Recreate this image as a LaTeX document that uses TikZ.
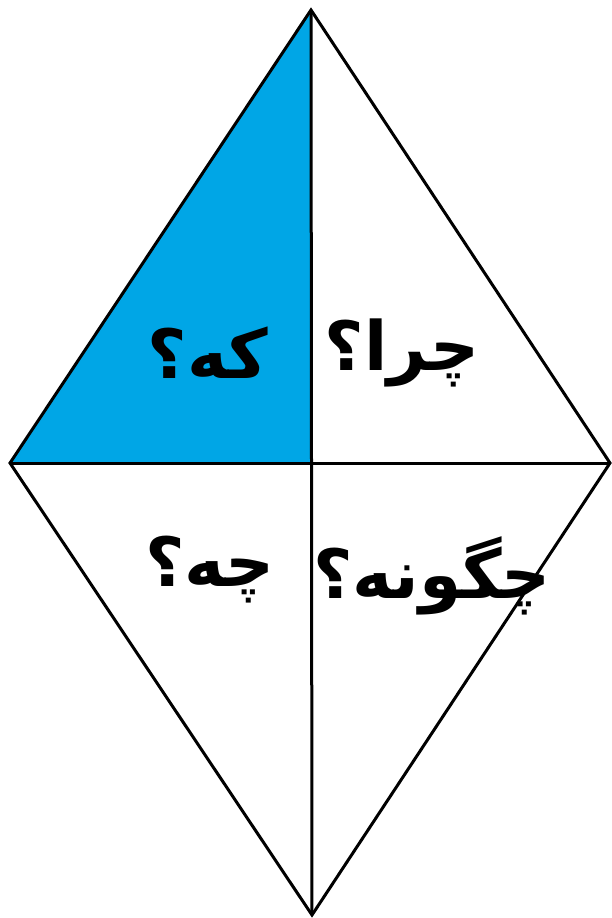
\documentclass[tikz,border=0pt]{standalone}
\usepackage{fontspec}
\newfontfamily\arabicfont[Script=Arabic]{DejaVu Sans}
\TeXXeTstate=1
\definecolor{kiteblue}{RGB}{0,166,230}
\tikzset{qword/.style={font=\arabicfont\bfseries\fontsize{68}{76}\selectfont, inner sep=0pt}}

\begin{document}
\begin{tikzpicture}[x=1pt, y=-1pt, line width=3pt]
\useasboundingbox (0,0) rectangle (612,918);
\coordinate (top) at (311,10);
\coordinate (left) at (10,463);
\coordinate (right) at (610,463);
\coordinate (bottom) at (312,915);
\coordinate (mid) at (311,463);
\fill[kiteblue] (top) -- (left) -- (mid) -- cycle;
\draw[line join=miter] (top) -- (right) -- (bottom) -- (left) -- cycle;
\draw (top) -- (bottom);
\draw (left) -- (right);
\node[qword] (ke) at (208,353) {\beginR که؟\endR};
\node[qword] (chera) at (402,353) {\beginR چرا؟\endR};
\node[qword] (che) at (210,570) {\beginR چه؟\endR};
\node[qword] (chegoone) at (432,576) {\beginR چگونه؟\endR};
\end{tikzpicture}
\end{document}
